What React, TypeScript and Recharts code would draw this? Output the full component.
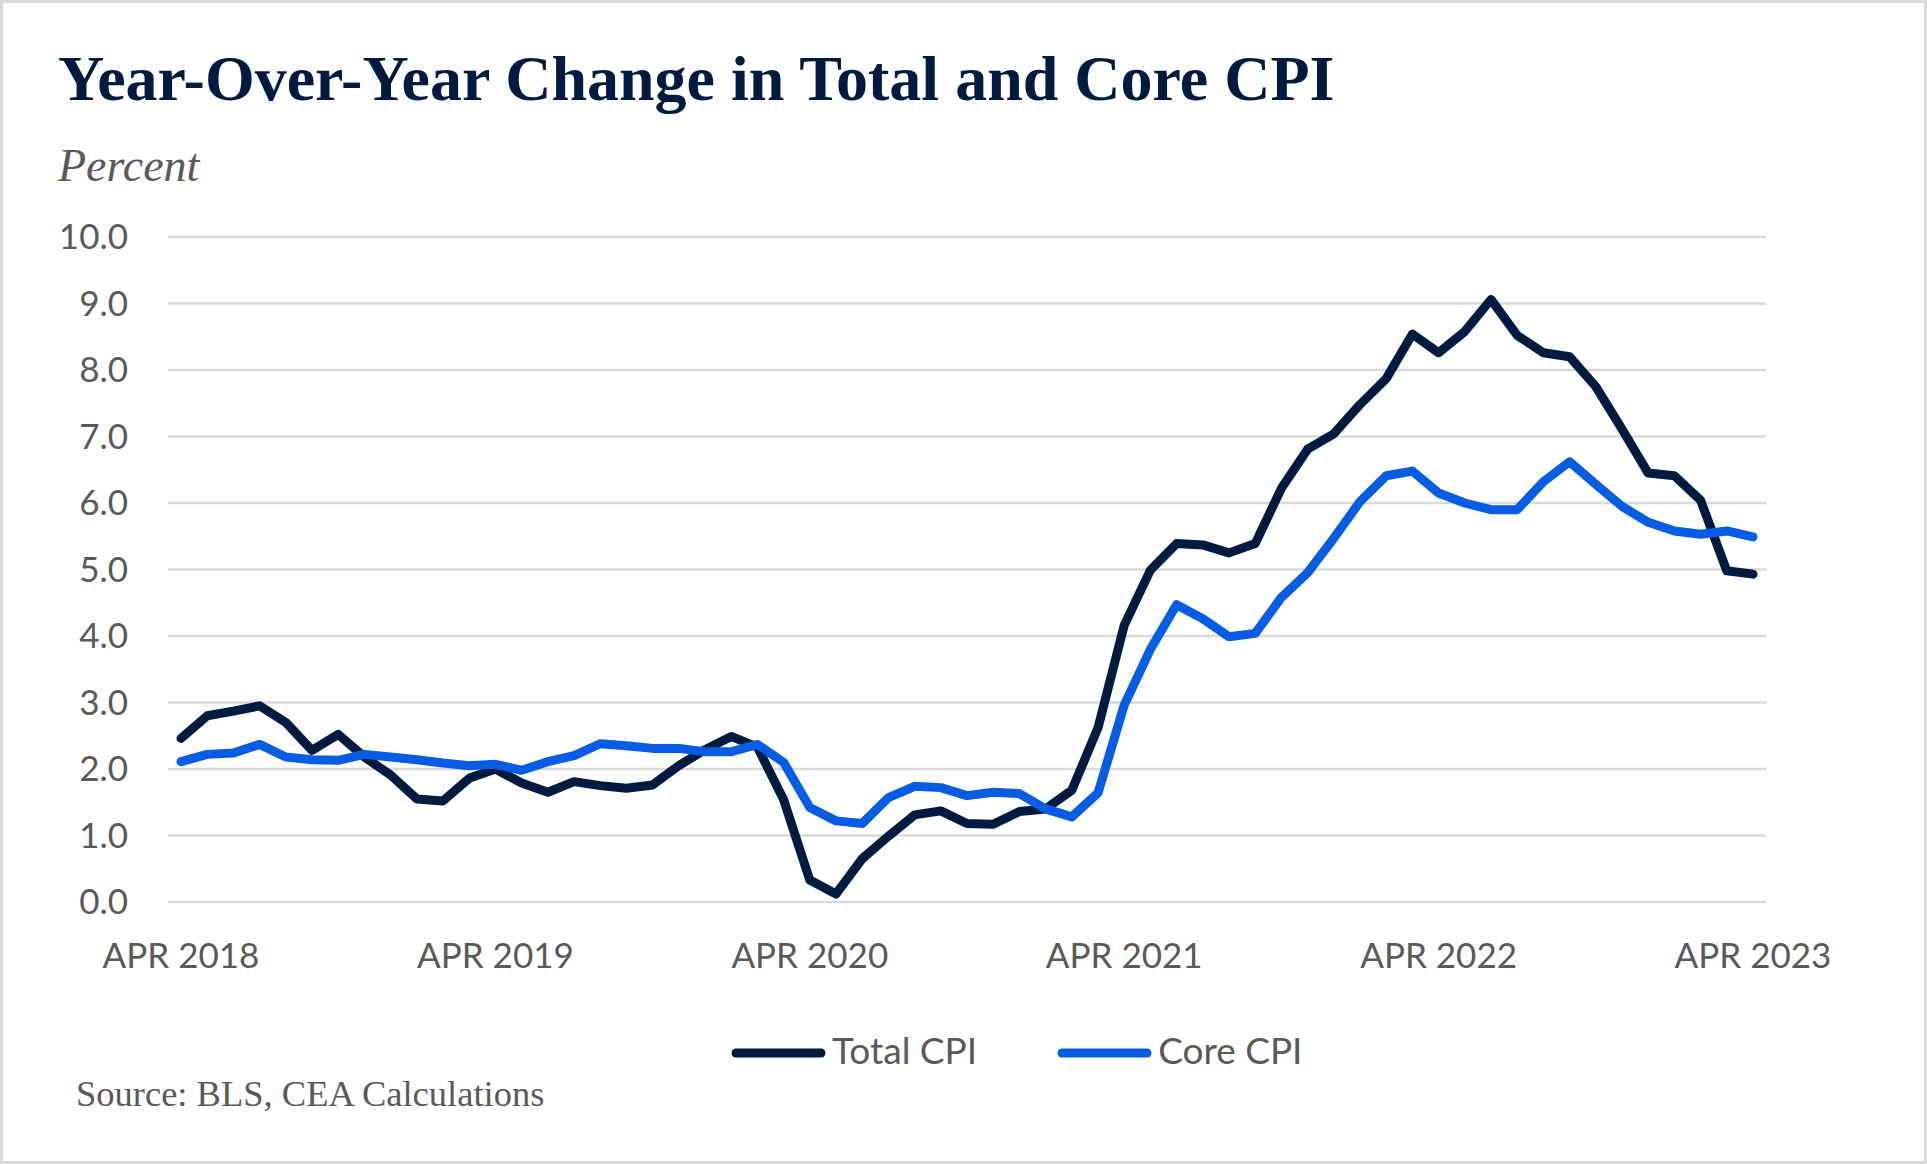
import { LineChart, Line, XAxis, YAxis, CartesianGrid, Legend } from "recharts";

const MONTHS = [
  "APR 2018", "MAY 2018", "JUN 2018", "JUL 2018", "AUG 2018", "SEP 2018", "OCT 2018", "NOV 2018", "DEC 2018",
  "JAN 2019", "FEB 2019", "MAR 2019", "APR 2019", "MAY 2019", "JUN 2019", "JUL 2019", "AUG 2019", "SEP 2019",
  "OCT 2019", "NOV 2019", "DEC 2019",
  "JAN 2020", "FEB 2020", "MAR 2020", "APR 2020", "MAY 2020", "JUN 2020", "JUL 2020", "AUG 2020", "SEP 2020",
  "OCT 2020", "NOV 2020", "DEC 2020",
  "JAN 2021", "FEB 2021", "MAR 2021", "APR 2021", "MAY 2021", "JUN 2021", "JUL 2021", "AUG 2021", "SEP 2021",
  "OCT 2021", "NOV 2021", "DEC 2021",
  "JAN 2022", "FEB 2022", "MAR 2022", "APR 2022", "MAY 2022", "JUN 2022", "JUL 2022", "AUG 2022", "SEP 2022",
  "OCT 2022", "NOV 2022", "DEC 2022",
  "JAN 2023", "FEB 2023", "MAR 2023", "APR 2023",
];

// year-over-year % change
const TOTAL_CPI = [
  2.46, 2.80, 2.87, 2.95, 2.70, 2.28, 2.52, 2.18, 1.91,
  1.55, 1.52, 1.86, 2.00, 1.79, 1.65, 1.81, 1.75, 1.71, 1.76, 2.05, 2.29,
  2.49, 2.33, 1.54, 0.33, 0.12, 0.65, 0.99, 1.31, 1.37, 1.18, 1.17, 1.36,
  1.40, 1.68, 2.62, 4.16, 4.99, 5.39, 5.37, 5.25, 5.39, 6.22, 6.81, 7.04,
  7.48, 7.87, 8.54, 8.26, 8.58, 9.06, 8.52, 8.26, 8.20, 7.75, 7.11, 6.45,
  6.41, 6.04, 4.98, 4.93,
];

const CORE_CPI = [
  2.11, 2.22, 2.24, 2.37, 2.18, 2.14, 2.13, 2.22, 2.18,
  2.14, 2.09, 2.05, 2.07, 1.98, 2.11, 2.20, 2.38, 2.35, 2.31, 2.31, 2.26,
  2.26, 2.37, 2.10, 1.42, 1.22, 1.18, 1.57, 1.74, 1.72, 1.60, 1.65, 1.63,
  1.40, 1.28, 1.64, 2.96, 3.80, 4.47, 4.26, 3.99, 4.04, 4.58, 4.95, 5.47,
  6.02, 6.41, 6.48, 6.15, 6.00, 5.90, 5.90, 6.32, 6.62, 6.28, 5.95, 5.71,
  5.58, 5.53, 5.58, 5.49,
];

const Y_TICKS = [0, 1, 2, 3, 4, 5, 6, 7, 8, 9, 10];
const LEGEND_ORDER = ["Total CPI", "Core CPI"];

const NAVY = "#001a40";
const BLUE = "#065ce3";
const GRAY_TEXT = "#595959";

const data = MONTHS.map((m, i) => ({ month: m, total: TOTAL_CPI[i], core: CORE_CPI[i] }));

function LegendContent({ payload }: any) {
  const items = [...(payload || [])].sort(
    (a: any, b: any) => LEGEND_ORDER.indexOf(a.value) - LEGEND_ORDER.indexOf(b.value)
  );
  return (
    <div style={{ display: "flex", paddingLeft: 731, fontFamily: "Lato", fontSize: 37, color: GRAY_TEXT }}>
      {items.map((p: any) => (
        <div key={p.value} style={{ display: "flex", alignItems: "flex-start", marginRight: 80 }}>
          <svg width={95} height={37} style={{ marginRight: 6 }}>
            <line x1={5} x2={90} y1={22} y2={22} stroke={p.color} strokeWidth={9} strokeLinecap="round" />
          </svg>
          <div style={{ lineHeight: "37px", whiteSpace: "nowrap" }}>{p.value}</div>
        </div>
      ))}
    </div>
  );
}

export default function App() {
  const serif = "'Liberation Serif', 'Times New Roman', serif";
  return (
    <div style={{ position: "absolute", left: 0, top: 0, width: 1927, height: 1164, background: "#fff", overflow: "hidden" }}>
      <div style={{
        position: "absolute", left: 58, top: 47, fontFamily: serif, fontWeight: 700,
        fontSize: 64, lineHeight: 1, color: NAVY, whiteSpace: "nowrap",
      }}>
        Year-Over-Year Change in Total and Core CPI
      </div>
      <div style={{
        position: "absolute", left: 58, top: 143, fontFamily: serif, fontStyle: "italic",
        fontSize: 46, lineHeight: 1, color: GRAY_TEXT,
      }}>
        Percent
      </div>

      <div style={{ position: "absolute", left: 0, top: 0 }}>
        <LineChart width={1927} height={1164} data={data} margin={{ top: 237, right: 161, bottom: 202, left: 0 }}>
          <CartesianGrid vertical={false} stroke="#d9d9d9" strokeWidth={2.5} />
          <XAxis
            dataKey="month"
            type="category"
            interval={11}
            padding={{ left: 13, right: 13 }}
            axisLine={false}
            tickLine={false}
            tickSize={0}
            tickMargin={41}
            height={60}
            tick={{ fill: GRAY_TEXT, fontSize: 35, fontFamily: "Lato" }}
          />
          <YAxis
            domain={[0, 10]}
            ticks={Y_TICKS}
            width={168}
            axisLine={false}
            tickLine={false}
            tickSize={0}
            tickMargin={40}
            tickFormatter={(v: number) => v.toFixed(1)}
            tick={{ fill: GRAY_TEXT, fontSize: 35, fontFamily: "Lato" }}
          />
          <Line
            dataKey="total"
            name="Total CPI"
            stroke={NAVY}
            strokeWidth={9}
            strokeLinecap="round"
            strokeLinejoin="round"
            dot={false}
            activeDot={false}
            isAnimationActive={false}
          />
          <Line
            dataKey="core"
            name="Core CPI"
            stroke={BLUE}
            strokeWidth={9}
            strokeLinecap="round"
            strokeLinejoin="round"
            dot={false}
            activeDot={false}
            isAnimationActive={false}
          />
          <Legend
            layout="horizontal"
            verticalAlign="middle"
            align="center"
            content={LegendContent}
            wrapperStyle={{ top: 1031, left: 0, width: 1927, height: 40 }}
          />
        </LineChart>
      </div>

      <div style={{
        position: "absolute", left: 76, top: 1076, fontFamily: serif,
        fontSize: 36.5, lineHeight: 1, color: GRAY_TEXT, whiteSpace: "nowrap",
      }}>
        Source: BLS, CEA Calculations
      </div>

      <div style={{
        position: "absolute", left: 0, top: 0, width: 1927, height: 1164,
        border: "3px solid #d9d9d9", boxSizing: "border-box", pointerEvents: "none",
      }} />
    </div>
  );
}
